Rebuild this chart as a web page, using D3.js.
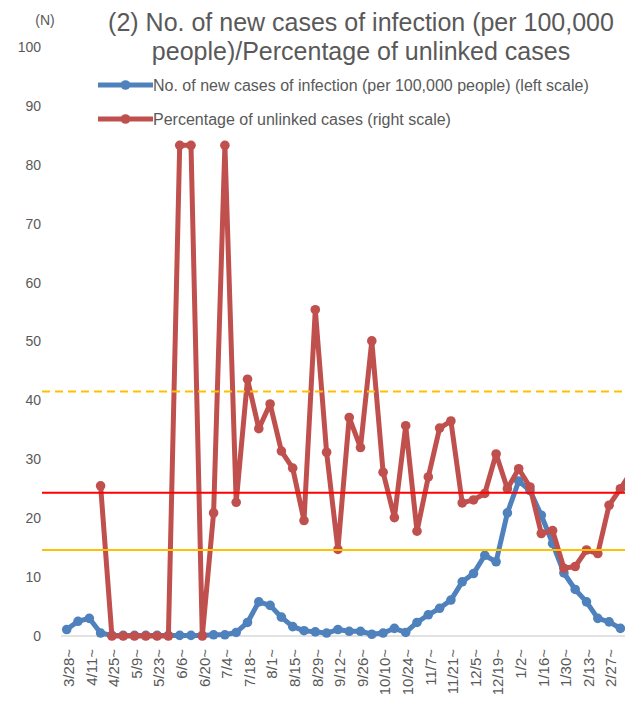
<!DOCTYPE html>
<html>
<head>
<meta charset="utf-8">
<script src="https://cdn.jsdelivr.net/npm/d3@7"></script>
<style>
  html, body { margin: 0; padding: 0; background: #fff; }
  svg { display: block; font-family: "Liberation Sans", Arial, sans-serif; }
</style>
</head>
<body>
<svg id="chart" width="625" height="706"></svg>
<script>
// ---- data ----
const weeks = ["3/28","4/4","4/11","4/18","4/25","5/2","5/9","5/16","5/23","5/30",
  "6/6","6/13","6/20","6/27","7/4","7/11","7/18","7/25","8/1","8/8",
  "8/15","8/22","8/29","9/5","9/12","9/19","9/26","10/3","10/10","10/17",
  "10/24","10/31","11/7","11/14","11/21","11/28","12/5","12/12","12/19","12/26",
  "1/2","1/9","1/16","1/23","1/30","2/6","2/13","2/20","2/27","3/6","3/13"];
const tickLabels = ["3/28","4/11","4/25","5/9","5/23","6/6","6/20","7/4","7/18","8/1",
  "8/15","8/29","9/12","9/26","10/10","10/24","11/7","11/21","12/5","12/19",
  "1/2","1/16","1/30","2/13","2/27"];
const newCases = [1.1,2.5,3.0,0.5,0.1,0.1,0.1,0.1,0.1,0.1,
  0.1,0.1,0.1,0.2,0.2,0.6,2.3,5.8,5.2,3.2,
  1.6,0.9,0.7,0.5,1.1,0.8,0.8,0.3,0.5,1.3,
  0.6,2.3,3.6,4.7,6.1,9.2,10.6,13.7,12.6,20.9,
  26.3,24.7,20.5,15.7,10.7,7.9,5.8,3.0,2.4,1.3,null];
const unlinked = [null,null,null,25.5,0,0,0,0,0,0,
  83.3,83.3,0,20.9,83.3,22.7,43.6,35.2,39.4,31.4,
  28.5,19.6,55.4,31.2,14.7,37.1,32.0,50.1,27.8,20.1,
  35.7,17.8,27.0,35.3,36.5,22.6,23.1,24.2,30.9,25.0,
  28.4,25.3,17.4,17.9,11.5,11.8,14.6,14.0,22.2,25.0,28.0];
const yTicks = [0,10,20,30,40,50,60,70,80,90,100];
const refDashed = 41.5;
const refRed = 24.3;
const refYellow = 14.6;
const titleLines = ["(2) No. of new cases of infection (per 100,000", "people)/Percentage of unlinked cases"];
const legendLabels = ["No. of new cases of infection (per 100,000 people) (left scale)", "Percentage of unlinked cases (right scale)"];

// ---- drawing ----
const svg = d3.select("#chart");
const textColor = "#595959";
const blue = "#4F81BD", red = "#C0504D";

const x = d3.scalePoint().domain(weeks).range([66.7, 66.7 + 11.3 * (weeks.length - 1)]);
const y = d3.scaleLinear().domain([0, 100]).range([636, 47]);

svg.append("defs").append("clipPath").attr("id", "clip")
  .append("rect").attr("x", 0).attr("y", 0).attr("width", 625).attr("height", 706);

// y axis labels
const yAxis = d3.axisLeft(y).tickValues(yTicks).tickSize(0).tickPadding(0);
const yg = svg.append("g").attr("transform", "translate(41,0)").call(yAxis);
yg.select(".domain").remove();
yg.selectAll("text").attr("fill", textColor).style("font-size", "14px")
  .style("font-family", "'Liberation Sans', Arial, sans-serif");

svg.append("text").attr("x", 45).attr("y", 25).attr("text-anchor", "middle")
  .attr("fill", textColor).style("font-size", "14px").text("(N)");

// x axis baseline
svg.append("line").attr("x1", 61).attr("x2", 625).attr("y1", y(0)).attr("y2", y(0))
  .attr("stroke", "#d9d9d9").attr("stroke-width", 1.5);

// x axis labels
const xAxis = d3.axisBottom(x).tickValues(tickLabels).tickSize(0).tickPadding(0)
  .tickFormat(d => d + "~");
const xg = svg.append("g").attr("transform", `translate(0,${y(0)})`).call(xAxis);
xg.select(".domain").remove();
xg.selectAll("text")
  .attr("fill", textColor)
  .style("font-size", "15px")
  .style("font-family", "'Liberation Sans', Arial, sans-serif")
  .attr("text-anchor", "end")
  .attr("dy", "0.35em")
  .attr("transform", "translate(1.5,13) rotate(-90)")
  .attr("x", 0).attr("y", 0);

// series
const plot = svg.append("g").attr("clip-path", "url(#clip)");
function drawSeries(values, color) {
  const pts = values.map((v, i) => ({k: weeks[i], v})).filter(d => d.v !== null);
  const line = d3.line().x(d => x(d.k)).y(d => y(d.v));
  plot.append("path").datum(pts).attr("d", line)
    .attr("fill", "none").attr("stroke", color).attr("stroke-width", 5)
    .attr("stroke-linejoin", "round");
  plot.selectAll(null).data(pts).join("circle")
    .attr("cx", d => x(d.k)).attr("cy", d => y(d.v)).attr("r", 4.8).attr("fill", color);
}
drawSeries(newCases, blue);
drawSeries(unlinked, red);

// reference lines
svg.append("line").attr("x1", 42).attr("x2", 625).attr("y1", y(refDashed)).attr("y2", y(refDashed))
  .attr("stroke", "#FFC000").attr("stroke-width", 2).attr("stroke-dasharray", "8,5");
svg.append("line").attr("x1", 42).attr("x2", 625).attr("y1", y(refRed)).attr("y2", y(refRed))
  .attr("stroke", "#FF0000").attr("stroke-width", 2);
svg.append("line").attr("x1", 42).attr("x2", 625).attr("y1", y(refYellow)).attr("y2", y(refYellow))
  .attr("stroke", "#FFC000").attr("stroke-width", 2);

// title
svg.append("text").attr("x", 361).attr("y", 31).attr("text-anchor", "middle")
  .attr("fill", textColor).style("font-size", "25px").text(titleLines[0]);
svg.append("text").attr("x", 361).attr("y", 60).attr("text-anchor", "middle")
  .attr("fill", textColor).style("font-size", "25px").text(titleLines[1]);

// legend
const legColors = [blue, red];
const legY = [85, 119];
legendLabels.forEach((lab, i) => {
  const g = svg.append("g");
  g.append("line").attr("x1", 98).attr("x2", 153).attr("y1", legY[i]).attr("y2", legY[i])
    .attr("stroke", legColors[i]).attr("stroke-width", 5);
  g.append("circle").attr("cx", 125.5).attr("cy", legY[i]).attr("r", 4.8).attr("fill", legColors[i]);
  g.append("text").attr("x", 153).attr("y", legY[i]).attr("dy", "0.35em")
    .attr("fill", textColor).style("font-size", "16px").text(lab);
});
</script>
</body>
</html>
